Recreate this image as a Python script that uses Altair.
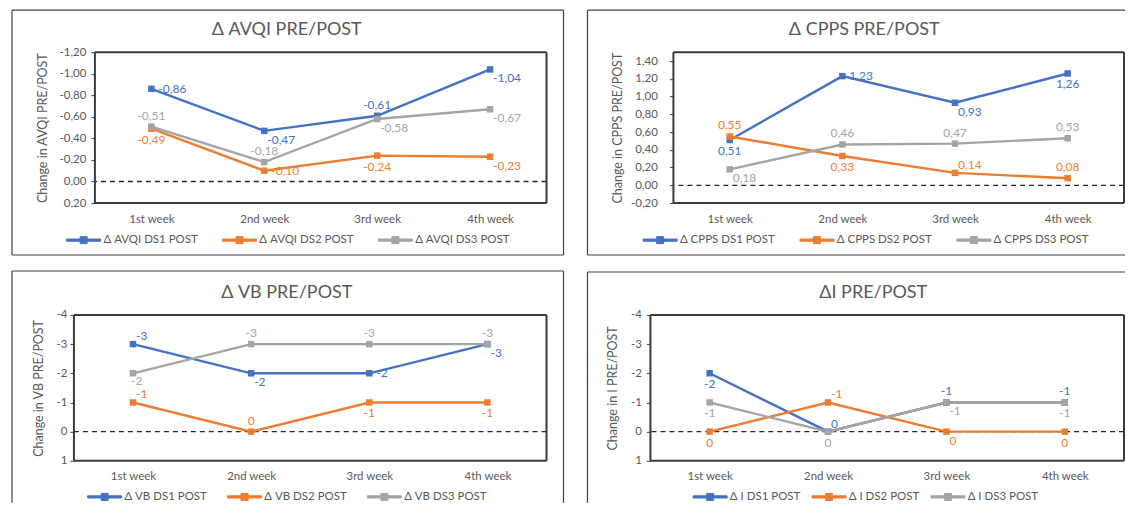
import altair as alt
import pandas as pd

# ---------------- data ----------------
weeks = ["1st week", "2nd week", "3rd week", "4th week"]

avqi_names = ["Δ AVQI DS1 POST", "Δ AVQI DS2 POST", "Δ AVQI DS3 POST"]
avqi_ds1 = [-0.86, -0.47, -0.61, -1.04]
avqi_ds2 = [-0.49, -0.10, -0.24, -0.23]
avqi_ds3 = [-0.51, -0.18, -0.58, -0.67]

cpps_names = ["Δ CPPS DS1 POST", "Δ CPPS DS2 POST", "Δ CPPS DS3 POST"]
cpps_ds1 = [0.51, 1.23, 0.93, 1.26]
cpps_ds2 = [0.55, 0.33, 0.14, 0.08]
cpps_ds3 = [0.18, 0.46, 0.47, 0.53]

vb_names = ["Δ VB DS1 POST", "Δ VB DS2 POST", "Δ VB DS3 POST"]
vb_ds1 = [-3, -2, -2, -3]
vb_ds2 = [-1, 0, -1, -1]
vb_ds3 = [-2, -3, -3, -3]

i_names = ["Δ I DS1 POST", "Δ I DS2 POST", "Δ I DS3 POST"]
i_ds1 = [-2, 0, -1, -1]
i_ds2 = [0, -1, 0, 0]
i_ds3 = [-1, 0, -1, -1]

avqi_ticks = [-1.2, -1.0, -0.8, -0.6, -0.4, -0.2, 0.0, 0.2]
cpps_ticks = [-0.2, 0.0, 0.2, 0.4, 0.6, 0.8, 1.0, 1.2, 1.4]
int_ticks = [-4, -3, -2, -1, 0, 1]

# data-label placement codes (style, per point)
avqi_place = [["R", "BR", "A", "BR"], ["B", "R", "B", "BR"], ["A", "A", "BR", "BR"]]
cpps_place = [["B", "R", "BR", "B"], ["A", "B", "AR", "A"], ["BR", "A", "A", "A"]]
vb_place = [["AR", "BR", "R", "BR"], ["AR", "A", "B", "B"], ["b", "A", "A", "A"]]
i_place = [["B", "AR", "A", "A"], ["B", "AR", "BR", "B"], ["B", "B", "BR", "B"]]

# ---------------- style ----------------
PALETTE = ["#4472C4", "#ED7D31", "#A5A5A5"]
FONT = "Lato"
GREY = "#595959"
FRAME = "#404040"
PLOTFRAME = "#3a3a3a"
SYMBOL = "M-4.86,-0.32H4.86V0.32H-4.86Z M-1,-1H1V1H-1Z"
PLACE = {
    "R": dict(align="left", dx=7, dy=0),
    "BR": dict(align="left", dx=3, dy=9),
    "AR": dict(align="left", dx=3, dy=-8),
    "A": dict(align="center", dx=0, dy=-11),
    "B": dict(align="center", dx=0, dy=11),
    "b": dict(align="left", dx=-2, dy=8),
}


def fmt2(v):
    return ("-" if v < 0 else "") + f"{abs(v):.2f}".replace(".", ",")


def fmt0(v):
    return str(int(v))


EXPR2 = "(datum.value < -0.0001 ? '-' : '') + replace(format(abs(datum.value), '.2f'), '.', ',')"
EXPR0 = "(datum.value < 0 ? '-' : '') + format(abs(datum.value), 'd')"


def edge(x1, x2, y1, y2, width=1.2, opacity=1, color=FRAME):
    return alt.Chart(pd.DataFrame({"k": [0]})).mark_rule(
        color=color, strokeWidth=width, strokeOpacity=opacity
    ).encode(x=alt.value(x1), x2=alt.value(x2), y=alt.value(y1), y2=alt.value(y2))


def panel(names, series, places, decimals, ticks, domain, reverse, w, h,
          title, title_x, ytitle, label_pad, title_pad, frame, legend_xy, col_pad):
    fmt = fmt2 if decimals else fmt0
    rows = []
    for name, vals, pl in zip(names, series, places):
        for wk, v, p in zip(weeks, vals, pl):
            rows.append({"week": wk, "value": v, "series": name,
                         "label": fmt(v), "pos": p})
    df = pd.DataFrame(rows)

    x = alt.X("week:N", sort=weeks,
              scale=alt.Scale(type="point", padding=0.5),
              axis=alt.Axis(title=None, labelAngle=0, ticks=False, domain=False,
                            labelPadding=10, labelColor=GREY, labelFontSize=11.5,
                            labelFont=FONT))
    y = alt.Y("value:Q",
              scale=alt.Scale(domain=domain, reverse=reverse, nice=False, zero=False),
              axis=alt.Axis(title=ytitle, values=ticks,
                            labelExpr=EXPR2 if decimals else EXPR0,
                            labelOverlap=False,
                            grid=False, domain=False, ticks=True, tickSize=4,
                            tickColor=FRAME, labelPadding=label_pad,
                            titlePadding=title_pad, labelColor=GREY,
                            labelFontSize=11.5, labelFont=FONT,
                            titleColor=GREY, titleFontSize=12.5,
                            titleFontWeight="normal", titleFont=FONT))
    color_scale = alt.Scale(domain=names, range=PALETTE)
    legend = alt.Legend(title=None, orient="none",
                        legendX=legend_xy[0], legendY=legend_xy[1],
                        direction="horizontal",
                        symbolType=SYMBOL, symbolSize=49,
                        symbolStrokeWidth=1, labelOffset=14,
                        columnPadding=col_pad, padding=0,
                        labelFontSize=11.5, labelColor=GREY,
                        labelFont=FONT)
    color = alt.Color("series:N", scale=color_scale, legend=legend)

    base = alt.Chart(df)
    zero = alt.Chart(pd.DataFrame({"value": [0]})).mark_rule(
        color="#262626", strokeDash=[5, 4], strokeWidth=1.3
    ).encode(y=y)
    line = base.mark_line(strokeWidth=2.4).encode(x=x, y=y, color=color)
    pts = base.mark_point(shape="square", filled=True, size=42, opacity=1).encode(
        x=x, y=y, color=color)
    texts = []
    for code, opts in PLACE.items():
        texts.append(
            base.transform_filter(alt.datum.pos == code)
            .mark_text(baseline="middle", fontSize=12, font=FONT, **opts)
            .encode(x=x, y=y, text="label:N", color=color)
        )
    ttl = alt.Chart(pd.DataFrame({"t": [title]})).mark_text(
        fontSize=18, font=FONT, color=GREY, align="center", baseline="middle"
    ).encode(x=alt.value(title_x), y=alt.value(-22), text="t:N")

    # plot-area frame
    plot_frame = [edge(0, w, 0, 0, 2, 1, PLOTFRAME), edge(0, w, h, h, 2, 1, PLOTFRAME),
                  edge(0, 0, 0, h, 2, 1, PLOTFRAME), edge(w, w, 0, h, 2, 1, PLOTFRAME)]
    # outer panel frame
    fl, fr, ft, fb, close_right, close_bottom, spacer = frame
    edges = [edge(fl, fr, ft, ft), edge(fl, fl, ft, fb)]
    if close_right:
        edges.append(edge(fr, fr, ft, fb))
    if close_bottom:
        edges.append(edge(fl, fr, fb, fb))
    if spacer:
        edges.append(edge(fr + spacer, fr + spacer, ft, ft, 1, 0))

    return alt.layer(zero, line, pts, *texts, ttl, *plot_frame, *edges).properties(
        width=w, height=h)


def dummy():
    return alt.Chart(pd.DataFrame({"k": [0]})).mark_rule(strokeOpacity=0).encode(
        x=alt.value(0), x2=alt.value(0), y=alt.value(0), y2=alt.value(1)
    ).properties(width=1, height=1)


p1 = panel(avqi_names, [avqi_ds1, avqi_ds2, avqi_ds3], avqi_place, True,
           avqi_ticks, [-1.2, 0.2], True, 452, 151,
           "Δ AVQI PRE/POST", 192, "Change in AVQI PRE/POST", 5, 10,
           (-83, 469, -42, 203, True, True, 23), (-17, 182), 21)
p2 = panel(cpps_names, [cpps_ds1, cpps_ds2, cpps_ds3], cpps_place, True,
           cpps_ticks, [-0.2, 1.5], False, 451, 151,
           "Δ CPPS PRE/POST", 191, "Change in CPPS PRE/POST", 12, 6,
           (-86, 452, -42, 203, False, True, 0), (-19, 182), 22)
p3 = panel(vb_names, [vb_ds1, vb_ds2, vb_ds3], vb_place, False,
           int_ticks, [-4, 1], True, 473, 146,
           "Δ VB PRE/POST", 213, "Change in VB PRE/POST", 3, 11,
           (-62, 490, -44, 188, True, False, 23), (25, 176), 17)
p4 = panel(i_names, [i_ds1, i_ds2, i_ds3], i_place, False,
           int_ticks, [-4, 1], True, 474, 146,
           "ΔI PRE/POST", 223, "Change in I PRE/POST", 5, 11,
           (-63, 475, -43, 188, False, False, 0), (54, 176), 8)

row1 = alt.hconcat(dummy(), p1, p2, spacing=0, bounds="full").resolve_scale(color="independent")
row2 = alt.hconcat(dummy(), p3, p4, spacing=0, bounds="full").resolve_scale(color="independent")

chart = (
    alt.vconcat(row1, row2, spacing=14, bounds="full")
    .resolve_scale(color="independent")
    .properties(padding={"left": 2, "top": 1, "right": 0, "bottom": 0},
                background="white")
    .configure_view(strokeWidth=0)
)

chart.save("out.html", embed_options={"renderer": "svg", "actions": False})
